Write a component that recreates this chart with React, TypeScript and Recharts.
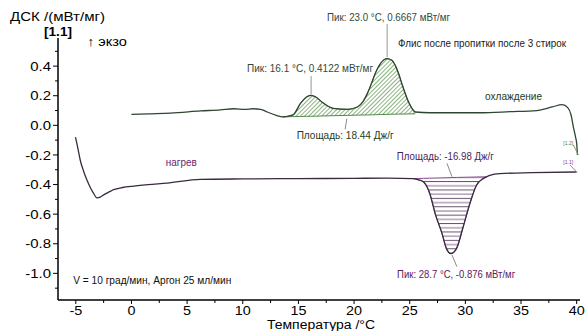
import React from 'react';
import { ComposedChart, Line, Area, XAxis, YAxis, ReferenceLine, ReferenceDot } from 'recharts';

// ---- data ----
const coolT = [0.0, 1.5, 3.5, 6.2, 8.0, 9.2, 10.2, 10.9, 11.6, 12.2, 13.0, 13.6, 14.5, 15.2, 15.7, 16.1, 16.6, 17.1, 18.1, 19.4, 20.3, 20.8, 21.2, 21.6, 21.9, 22.4, 22.95, 23.4, 23.7, 24.0, 24.3, 24.9, 25.5, 26.8, 28.5, 31.3, 34.0, 36.4, 37.8, 38.7, 39.2, 39.5, 39.7, 39.9, 40.0, 40.07];
const coolV = [0.074, 0.078, 0.083, 0.097, 0.105, 0.112, 0.108, 0.112, 0.108, 0.09, 0.068, 0.057, 0.07, 0.15, 0.19, 0.203, 0.19, 0.158, 0.115, 0.108, 0.124, 0.16, 0.216, 0.29, 0.35, 0.42, 0.45, 0.44, 0.405, 0.35, 0.28, 0.157, 0.09, 0.085, 0.085, 0.085, 0.092, 0.1, 0.124, 0.14, 0.12, 0.07, -0.01, -0.08, -0.12, -0.2];

const heatT = [-5.03, -4.8, -4.6, -4.3, -4.0, -3.7, -3.4, -3.1, -2.8, -2.5, -2.0, -1.6, -0.8, 0.2, 1.5, 3.2, 6.2, 10.0, 15.0, 20.0, 23.0, 25.3, 25.8, 26.25, 26.8, 27.3, 27.9, 28.3, 28.7, 29.2, 29.8, 30.4, 31.0, 31.6, 31.9, 32.2, 33.1, 36.0, 40.0];
const heatV = [-0.08, -0.16, -0.236, -0.31, -0.37, -0.42, -0.46, -0.49, -0.485, -0.47, -0.45, -0.435, -0.42, -0.41, -0.4, -0.39, -0.365, -0.362, -0.36, -0.358, -0.357, -0.36, -0.368, -0.383, -0.46, -0.6, -0.73, -0.833, -0.867, -0.833, -0.687, -0.53, -0.405, -0.36, -0.348, -0.338, -0.326, -0.32, -0.315];

const coolPeakT = [13.6, 14.5, 15.2, 15.7, 16.1, 16.6, 17.1, 18.1, 19.4, 20.3, 20.8, 21.2, 21.6, 21.9, 22.4, 22.95, 23.4, 23.7, 24.0, 24.3, 24.9, 25.5];
const coolPeakV = [0.057, 0.07, 0.15, 0.19, 0.203, 0.19, 0.158, 0.115, 0.108, 0.124, 0.16, 0.216, 0.29, 0.35, 0.42, 0.45, 0.44, 0.405, 0.35, 0.28, 0.157, 0.09];
const coolPeakBase = [0.057, 0.059, 0.06, 0.061, 0.061, 0.062, 0.063, 0.065, 0.067, 0.069, 0.07, 0.07, 0.071, 0.072, 0.073, 0.074, 0.075, 0.075, 0.076, 0.076, 0.077, 0.078];

const heatPeakT = [25.3, 25.8, 26.25, 26.8, 27.3, 27.9, 28.3, 28.7, 29.2, 29.8, 30.4, 31.0, 31.6, 31.9];
const heatPeakV = [-0.36, -0.368, -0.383, -0.46, -0.6, -0.73, -0.833, -0.867, -0.833, -0.687, -0.53, -0.405, -0.36, -0.348];
const heatPeakBase = [-0.36, -0.359, -0.358, -0.357, -0.356, -0.355, -0.354, -0.353, -0.352, -0.351, -0.35, -0.349, -0.348, -0.348];

const xMajorTicks = [-5, 0, 5, 10, 15, 20, 25, 30, 35, 40];
const xTickLabels = ['-5', '0', '5', '10', '15', '20', '25', '30', '35', '40'];
const xMinorTicks = [-2.5, 2.5, 7.5, 12.5, 17.5, 22.5, 27.5, 32.5, 37.5];
const yMajorTicks = [-1.0, -0.8, -0.6, -0.4, -0.2, 0.0, 0.2, 0.4];
const yTickLabels = ['-1.0', '-0.8', '-0.6', '-0.4', '-0.2', '0.0', '0.2', '0.4'];
const yMinorTicks = [-1.1, -0.9, -0.7, -0.5, -0.3, -0.1, 0.1, 0.3, 0.5];

const coolData = coolT.map((t, i) => ({ t, v: coolV[i] }));
const heatData = heatT.map((t, i) => ({ t, v: heatV[i] }));
const coolPeakData = coolPeakT.map((t, i) => ({ t, v: coolPeakV[i], base: coolPeakBase[i] }));
const heatPeakData = heatPeakT.map((t, i) => ({ t, v: heatPeakV[i], base: heatPeakBase[i] }));

// ---- annotations (anchored in data coordinates) ----
const SANS = '"Liberation Sans", Arial, sans-serif';
const NARROW = '"Liberation Sans Narrow", "Arial Narrow", "Liberation Sans", Arial, sans-serif';

const notes = [
  { t: 23.1, v: 0.705, text: 'Пик: 23.0 °C, 0.6667 мВт/мг', w: 123, size: 10.5, color: '#34483a', anchor: 'middle' },
  { t: 31.5, v: 0.532, text: 'Флис после пропитки после 3 стирок', w: 168, size: 10.5, color: '#1a1a1a', anchor: 'middle' },
  { t: 16.05, v: 0.357, text: 'Пик: 16.1 °C, 0.4122 мВт/мг', w: 126, size: 10.5, color: '#34483a', anchor: 'middle' },
  { t: 34.33, v: 0.171, text: 'охлаждение', w: 57, size: 10.5, color: '#1f3a22', anchor: 'middle' },
  { t: 19.2, v: -0.093, text: 'Площадь: 18.44 Дж/г', w: 97, size: 10.5, color: '#1f3a22', anchor: 'middle' },
  { t: 28.2, v: -0.234, text: 'Площадь: -16.98 Дж/г', w: 97, size: 10.5, color: '#4a1f58', anchor: 'middle' },
  { t: 29.17, v: -1.032, text: 'Пик: 28.7 °C, -0.876 мВт/мг', w: 118, size: 10.5, color: '#5a2062', anchor: 'middle' },
  { t: 4.48, v: -0.275, text: 'нагрев', w: 31, size: 10.5, color: '#6a1f6e', anchor: 'middle' },
  { t: -5.23, v: -1.072, text: 'V = 10 град/мин, Аргон 25 мл/мин', w: 158, size: 11, color: '#111111', anchor: 'start' },
  { t: 38.8, v: -0.131, text: '[1.2]', w: 10, size: 6, color: '#4f7a3f', anchor: 'start' },
  { t: 38.8, v: -0.261, text: '[1.1]', w: 10, size: 6, color: '#8a3a8a', anchor: 'start' },
];

const leaders = [
  { x1: 22.97, y1: 0.685, x2: 22.97, y2: 0.46, c: '#8f9a8f' },
  { x1: 16.14, y1: 0.333, x2: 16.14, y2: 0.211, c: '#8f9a8f' },
  { x1: 19.35, y1: 0.045, x2: 19.2, y2: -0.027, c: '#8a8a8a' },
  { x1: 28.35, y1: -0.257, x2: 28.8, y2: -0.347, c: '#8a8a8a' },
  { x1: 28.8, y1: -0.876, x2: 29.24, y2: -0.955, c: '#8a8a8a' },
  { x1: 39.7, y1: -0.132, x2: 40.15, y2: -0.2, c: '#7aa06a' },
  { x1: 39.4, y1: -0.268, x2: 40.06, y2: -0.32, c: '#b07ab0' },
];

const near = (a: number, b: number) => Math.abs(a - b) < 1e-6;

const renderXTick = (p: any) => {
  const v = p.payload.value;
  const idx = xMajorTicks.findIndex((m) => near(m, v));
  const major = idx >= 0;
  return (
    <g>
      <line x1={p.x} x2={p.x} y1={p.y} y2={p.y + (major ? 4 : 3)} stroke="#000" strokeWidth={1} />
      {major && (
        <text transform={`translate(${p.x},${p.y + 14.5}) scale(1.15,1)`} textAnchor="middle" fontSize={12.5} fontFamily={SANS} fill="#000">
          {xTickLabels[idx]}
        </text>
      )}
    </g>
  );
};

const renderYTick = (p: any) => {
  const v = p.payload.value;
  const idx = yMajorTicks.findIndex((m) => near(m, v));
  const major = idx >= 0;
  return (
    <g>
      <line x1={p.x - (major ? 5 : 3)} x2={p.x} y1={p.y} y2={p.y} stroke="#000" strokeWidth={1} />
      {major && (
        <text transform={`translate(${p.x - 7},${p.y + 4.6}) scale(1.15,1)`} textAnchor="end" fontSize={13} fontFamily={SANS} fill="#000">
          {yTickLabels[idx]}
        </text>
      )}
    </g>
  );
};

const renderYTitle = (p: any) => {
  const vb = p && p.viewBox ? p.viewBox : { x: 0, y: 38, width: 58, height: 262 };
  const x0 = vb.x;
  const y0 = vb.y;
  return (
    <g>
      <text x={x0 + 10} y={y0 - 17} fontSize={13.5} fontFamily={SANS} fill="#000" textLength={95} lengthAdjust="spacingAndGlyphs">ДСК /(мВт/мг)</text>
      <text x={x0 + 44} y={y0 - 2} fontSize={13} fontWeight="bold" fontFamily={SANS} fill="#000" textLength={28} lengthAdjust="spacingAndGlyphs">[1.1]</text>
      <text x={x0 + 87} y={y0 + 8} fontSize={12.5} fontFamily={SANS} fill="#000" textLength={40} lengthAdjust="spacingAndGlyphs">↑ экзо</text>
    </g>
  );
};

const renderXTitle = (p: any) => {
  const vb = p && p.viewBox ? p.viewBox : { x: 58, y: 300, width: 522, height: 31 };
  return (
    <text x={vb.x + vb.width / 2 + 2} y={vb.y + 28.5} textAnchor="middle" fontSize={12.5} fontFamily={SANS} fill="#000" textLength={108} lengthAdjust="spacingAndGlyphs">
      Температура /°C
    </text>
  );
};

export default function App() {
  const xTicks = [...xMajorTicks, ...xMinorTicks].sort((a, b) => a - b);
  const yTicks = [...yMajorTicks, ...yMinorTicks].sort((a, b) => a - b);
  return (
    <div style={{ position: 'absolute', left: 0, top: 0, width: 586, height: 331, background: '#fff' }}>
      <ComposedChart width={586} height={331} margin={{ top: 38, right: 6, bottom: 0, left: 0 }}>
        <defs>
          <pattern id="hatchG" patternUnits="userSpaceOnUse" width="3" height="3" patternTransform="rotate(45)">
            <line x1="0.5" y1="0" x2="0.5" y2="3" stroke="#6f9f5f" strokeWidth="0.8" />
          </pattern>
          <pattern id="hatchP" patternUnits="userSpaceOnUse" width="8" height="8.4">
            <line x1="0" y1="1" x2="8" y2="1" stroke="#8a6a92" strokeWidth="1" />
            <line x1="0" y1="5.2" x2="8" y2="5.2" stroke="#4a3a4e" strokeWidth="0.9" />
          </pattern>
        </defs>
        <XAxis
          type="number"
          dataKey="t"
          domain={[-6.6, 40.3]}
          allowDataOverflow
          ticks={xTicks}
          interval={0}
          tick={renderXTick}
          tickLine={false}
          tickSize={0}
          tickMargin={0}
          height={31}
          axisLine={{ stroke: '#000', strokeWidth: 1.5 }}
          label={renderXTitle}
        />
        <YAxis
          type="number"
          domain={[-1.18, 0.59]}
          allowDataOverflow
          ticks={yTicks}
          interval={0}
          tick={renderYTick}
          tickLine={false}
          tickSize={0}
          tickMargin={0}
          width={58}
          axisLine={{ stroke: '#000', strokeWidth: 1.5 }}
          label={renderYTitle}
        />
        <Area
          data={coolPeakData}
          dataKey={(d: any) => [d.base, d.v]}
          type="monotone"
          stroke="#4f8a45"
          strokeWidth={1}
          fill="url(#hatchG)"
          fillOpacity={1}
          dot={false}
          activeDot={false}
          isAnimationActive={false}
        />
        <Area
          data={heatPeakData}
          dataKey={(d: any) => [d.base, d.v]}
          type="monotone"
          stroke="#8a4a92"
          strokeWidth={1}
          fill="url(#hatchP)"
          fillOpacity={1}
          dot={false}
          activeDot={false}
          isAnimationActive={false}
        />
        <Line data={coolData} dataKey="v" type="monotone" stroke="#2f4632" strokeWidth={1.3} dot={false} activeDot={false} isAnimationActive={false} />
        <Line data={heatData} dataKey="v" type="monotone" stroke="#3a2a40" strokeWidth={1.3} dot={false} activeDot={false} isAnimationActive={false} />
        {leaders.map((l, i) => (
          <ReferenceLine
            key={'l' + i}
            segment={[{ x: l.x1, y: l.y1 }, { x: l.x2, y: l.y2 }]}
            stroke={l.c}
            strokeWidth={1}
            ifOverflow="visible"
          />
        ))}
        {notes.map((n, i) => (
          <ReferenceDot
            key={'n' + i}
            x={n.t}
            y={n.v}
            r={0}
            ifOverflow="visible"
            shape={(p: any) => (
              <text
                x={p.cx}
                y={p.cy}
                textAnchor={n.anchor as any}
                fontSize={n.size}
                fontFamily={NARROW}
                fill={n.color}
                textLength={n.w}
                lengthAdjust="spacingAndGlyphs"
              >
                {n.text}
              </text>
            )}
          />
        ))}
      </ComposedChart>
    </div>
  );
}
